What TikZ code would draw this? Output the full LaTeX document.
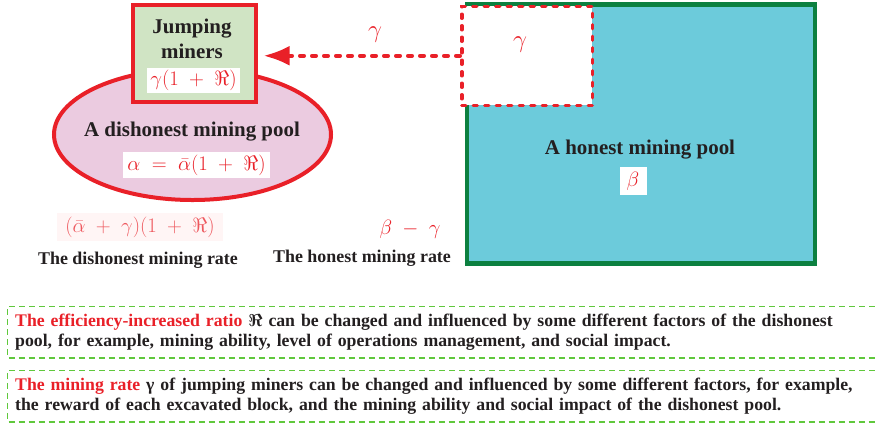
\documentclass[tikz,border=0pt]{standalone}
\usepackage{amsmath,amssymb}
\usepackage{fontspec}
\setmainfont{Liberation Serif}
\usepackage{xcolor}
\usepackage{tikz}
\usetikzlibrary{arrows.meta,positioning,shapes.geometric}

\definecolor{poolred}{RGB}{233,32,40}
\definecolor{honestgreen}{RGB}{12,128,64}
\definecolor{honestcyan}{RGB}{108,203,219}
\definecolor{jumpgreen}{RGB}{208,228,196}
\definecolor{dishonestpink}{RGB}{235,203,224}
\definecolor{notegreen}{RGB}{96,200,60}
\definecolor{inkgray}{RGB}{35,31,32}

\tikzset{
  poollabel/.style={font=\bfseries\fontsize{21}{24}\selectfont, text=inkgray, align=center},
  ratelabel/.style={font=\bfseries\fontsize{18}{20}\selectfont, text=inkgray},
  formula/.style={fill=white, text=poolred, inner xsep=3pt, inner ysep=2pt,
    font=\fontsize{21}{23}\selectfont},
  notebox/.style={anchor=north west, text width=862bp, inner xsep=7.5bp,
    inner ysep=0pt, minimum height=51bp, align=left, text=inkgray,
    font=\bfseries\fontsize{17.8}{21}\selectfont},
  noteframe/.style={draw=notegreen, line width=1.2bp, dash pattern=on 6bp off 4bp},
}

\begin{document}
\begin{tikzpicture}[x=1bp,y=-1bp,>=Latex]
  \useasboundingbox (0,0) rectangle (877,425);

  % honest pool
  \draw[honestgreen, line width=4.5bp, fill=honestcyan] (467,4.5) rectangle (815,263.5);
  \node[poollabel] (honestlbl) at (640,150) {A honest mining pool};
  \node[formula, minimum width=27bp, minimum height=28bp, inner sep=0pt] (beta) at (633,181) {$\beta$};

  % part of it that jumps
  \node[draw=poolred, fill=white, line width=3.5bp, line cap=round,
    dash pattern=on 4bp off 7.5bp, minimum width=130.5bp, minimum height=99bp,
    inner sep=0pt, anchor=north west] (gammasq) at (460,4.5) {};
  \node[text=poolred, font=\fontsize{23}{25}\selectfont] (gammalbl) at (520,45) {$\gamma$};

  % dishonest pool
  \node[ellipse, draw=poolred, line width=4bp, fill=dishonestpink,
    minimum width=277bp, minimum height=131bp, inner sep=0pt] (dishonest) at (192.5,134.5) {};
  \node[poollabel] (dishonestlbl) at (192,132) {A dishonest mining pool};
  \node[formula, minimum width=147bp, minimum height=26bp, inner ysep=0pt] (alpha) at (196.5,165)
    {$\alpha\;=\;\bar{\alpha}(1\;+\;\Re)$};

  % jumping miners
  \node[draw=poolred, fill=jumpgreen, line width=4bp, minimum width=123bp,
    minimum height=97.5bp, inner sep=0pt, anchor=north west] (jump) at (130.5,2.5) {};
  \node[poollabel, font=\bfseries\fontsize{21}{24.5}\selectfont] (jumplbl) at (192,39) {Jumping\\miners};
  \node[formula, minimum width=93bp, minimum height=25bp, inner ysep=0pt] (jumprate) at (193.5,80.5)
    {$\gamma(1\;+\;\Re)$};

  \draw[poolred, line width=4bp, line cap=round, dash pattern=on 4bp off 8bp,
    -{Latex[length=26bp,width=20bp]}, shorten >=6bp]
    (gammasq.west) -- (gammasq.west -| jump.east);
  \node[text=poolred, font=\fontsize{23}{25}\selectfont] (movelbl) at (375,35) {$\gamma$};

  % rates
  \node[formula, fill=red!4, text=poolred!75, minimum width=165bp, minimum height=28bp,
    inner ysep=0pt] (dishonestrate) at (140,227) {$(\bar{\alpha}\;+\;\gamma)(1\;+\;\Re)$};
  \node[ratelabel] (dishonestratelbl) at (138,260) {The dishonest mining rate};
  \node[formula, fill=none] (honestrate) at (410,229) {$\beta\;-\;\gamma$};
  \node[ratelabel] (honestratelbl) at (362,258) {The honest mining rate};

  % notes
  \node[notebox] (rationote) at (7.5,306.5)
    {\textcolor{poolred}{The efficiency-increased ratio} $\boldsymbol{\Re}$ can be changed and influenced by some different factors of the dishonest\\
     pool, for example, mining ability, level of operations management, and social impact.};
  \draw[noteframe] (rationote.north east) -- (rationote.north west)
    -- (rationote.south west) -- (rationote.south east);
  \node[notebox] (ratenote) at (7.5,370.5)
    {\textcolor{poolred}{The mining rate} γ of jumping miners can be changed and influenced by some different factors, for example,\\
     the reward of each excavated block, and the mining ability and social impact of the dishonest pool.};
  \draw[noteframe] (ratenote.north east) -- (ratenote.north west)
    -- (ratenote.south west) -- (ratenote.south east);
\end{tikzpicture}
\end{document}
